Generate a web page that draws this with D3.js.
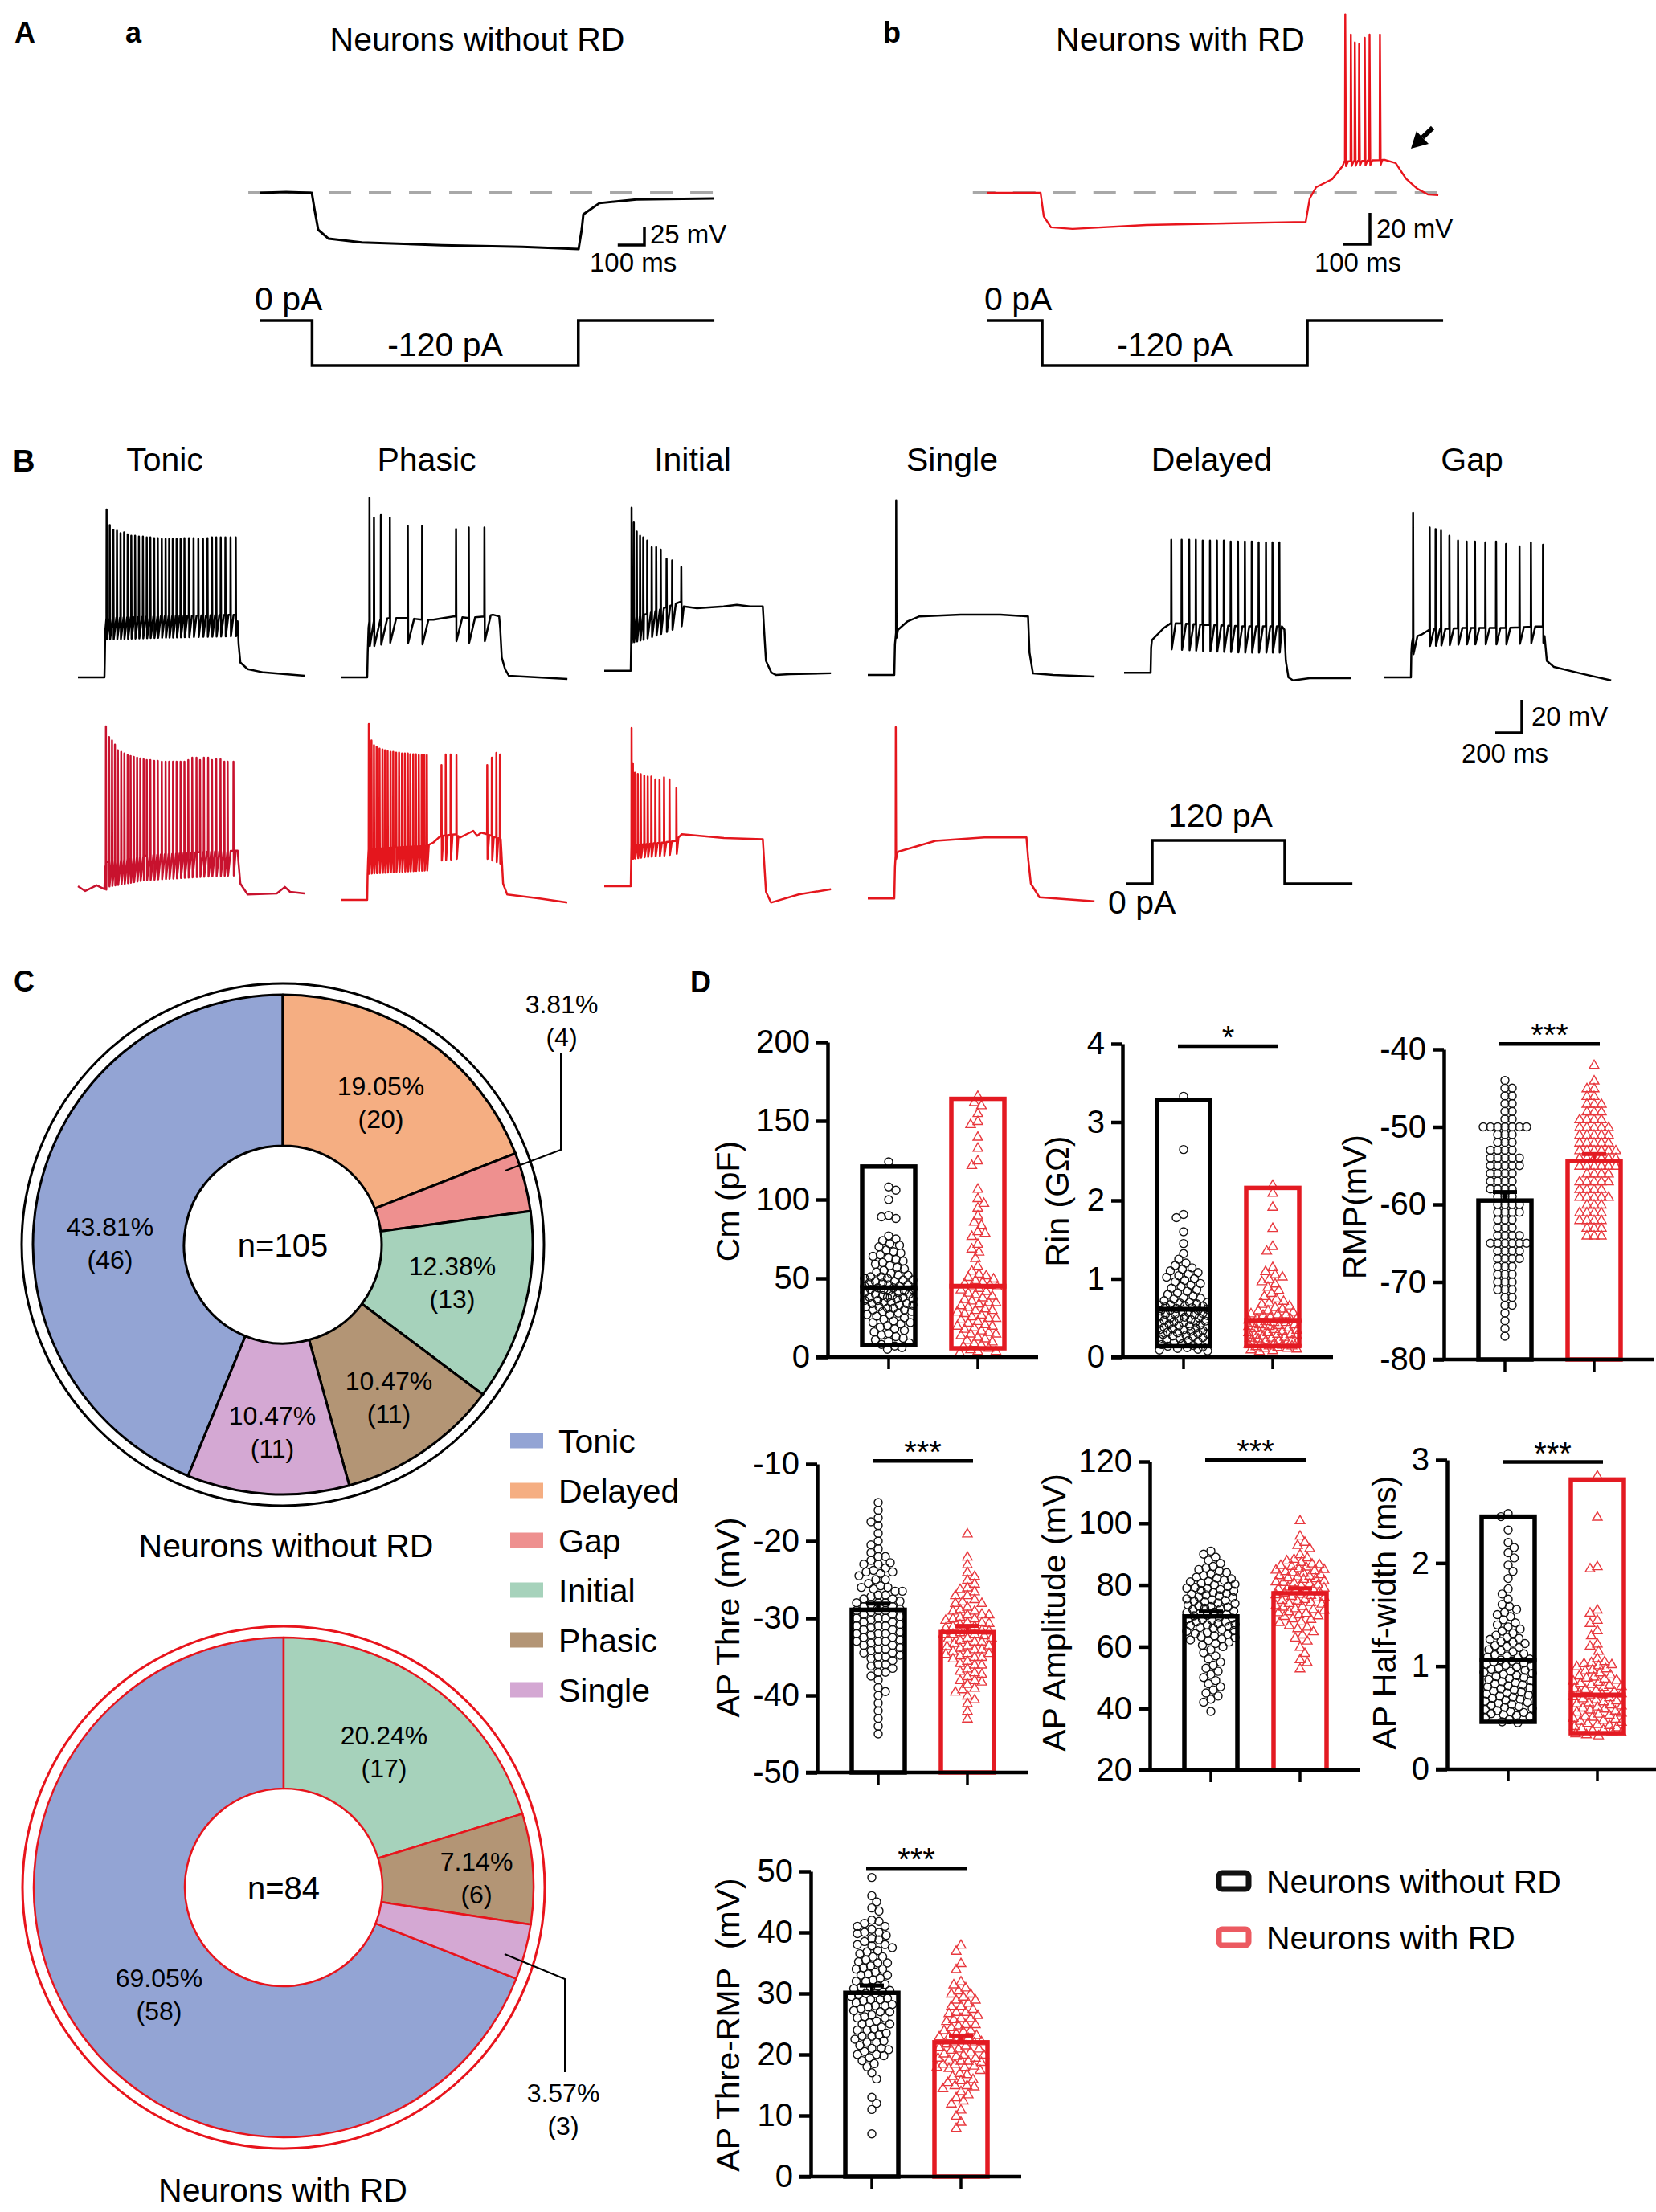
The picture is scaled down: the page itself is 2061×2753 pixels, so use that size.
<!DOCTYPE html>
<html>
<head>
<meta charset="utf-8">
<script src="https://cdn.jsdelivr.net/npm/d3@7"></script>
<style>
  body { margin: 0; background: #fff; }
  svg { display: block; font-family: "Liberation Sans", Arial, Helvetica, sans-serif; }
</style>
</head>
<body>
<div id="fig"></div>
<script>
// ---------------- Panel A: response to a -120 pA step (t in ms, v in mV from rest) ----------------
const aNoRdEnv = [[0,0],[100,1],[196,0],[205,-20],[220,-50],[259,-62],[383,-67],[684,-71],[985,-73],[1196,-76],
  [1208,-49],[1214,-29],[1274,-14],[1413,-9],[1702,-7.6]];
const aRdEnv = [[0,0],[199,0],[211,-15],[238,-22],[319,-23],[596,-20.5],[1193,-18.5],[1208,-3.6],[1232,3.6],
  [1292,8.7],[1331,17],[1338,20],[1480,21],[1491,21],[1530,19],[1569,9],[1611,2.6],[1651,-1],[1690,-1.5]];
const aRdSpikes = [[1340,114],[1361,101],[1376,96],[1392,95],[1413,99],[1431,101],[1470,101]];
const aStepNoRd = [[0,0],[197,-120],[1195,0],[1705,0]];
const aStepRd = [[0,0],[205,-120],[1199,0],[1708,0]];

// ---------------- Panel B: firing patterns under a 120 pA step ----------------
const bTypes = ['Tonic', 'Phasic', 'Initial', 'Single', 'Delayed', 'Gap'];
const bStep = [[0,0],[200,120],[1200,0],[1710,0]];

const tonicEnv = [[0,0],[200,0],[203,12],[206,28],[215,36],[600,37],[1190,38],[1204,34],[1212,20],[1225,9],[1280,5],[1400,3],[1710,1]];
const tonicSpikes = [[215,102],[239,92.5],[266,89.6],[293,89],[320,87.6],[347,88],[374,86.8],[401,86],[430,86],[459,85.5],
  [489,85.5],[518,85],[545,85],[574,84.5],[601,84.5],[631,84],[660,84],[687,84],[714,84],[743,84],[773,84],[802,84.5],
  [836,84.5],[871,84.5],[907,84],[942,84],[976,84.5],[1010,85],[1042,85],[1076,85],[1111,85],[1150,85],[1189,85]];

const phasicEnv = [[0,0],[200,0],[204,15],[210,30],[216,34],[250,34],[370,36],[505,36],[613,35],[700,35],[850,37],[869,37],
  [965,36],[1083,37],[1150,38],[1195,37],[1203,30],[1215,12],[1240,5],[1268,1],[1710,-1]];
const phasicSpikes = [[216,109],[250,97],[302,98.5],[370,97],[505,92],[613,92],[869,90],[965,91],[1083,91]];

const initialEnv = [[0,4],[200,4],[203,20],[205,36],[300,38],[450,42],[580,46],[600,43],[700,42],[900,43],[1000,44],
  [1100,43],[1196,43],[1205,30],[1220,10],[1260,3],[1294,1.5],[1400,2],[1710,2.5]];
const initialSpikes = [[205,103],[222,94],[244,88.5],[269,86],[293,85],[323,83],[357,79],[391,79],[425,77.6],[469,72],[511,71],[580,67]];

const singleEnv = [[0,1.5],[200,1.5],[205,20],[213,27],[230,29],[300,34],[389,37],[700,38],[1000,38],[1209,37],[1220,15],
  [1246,2.4],[1400,1.5],[1710,0.5]];
const singleSpikes = [[213,107.5]];

const delayedEnv = [[0,2.8],[200,2.8],[204,18],[210,22.6],[300,30],[355,33],[600,32],[900,31],[1190,31],[1209,29],[1220,10],
  [1240,0],[1275,-1.8],[1400,-0.5],[1710,-0.5]];
const delayedSpikes = [[355,83.5],[433,83.5],[490,83.5],[540,83.5],[592,83],[647,83],[699,83],[751,83],[803,82.5],[858,82.5],
  [910,82.5],[962,82.5],[1014,82],[1069,82],[1118,82],[1170,82]];

const gapEnv = [[0,0],[200,0],[203,15],[208,21],[215,24],[280,26],[340,29],[600,30],[900,30],[1195,31],[1208,25],[1225,10],
  [1279,6.3],[1500,2],[1710,-1.8]];
const gapSpikes = [[215,100],[340,91],[385,90],[426,89],[489,86],[554,83],[619,82.5],[682,82.5],[760,82],[841,82.5],[916,81],
  [1018,79.5],[1104,82],[1195,80.5]];

const tonicRdEnv = [[0,3.4],[55,0.5],[141,4],[200,1.6],[203,10],[206,15],[215,18],[500,22],[900,24],[1190,25],[1205,25],
  [1211,18],[1225,5],[1280,-1.6],[1500,-1],[1561,3],[1600,0],[1710,-1]];
const tonicRdSpikes = [[210,100.5],[234,94],[256,92],[278,89.4],[300,86],[325,85],[349,84],[374,83],[396,82.5],[420,82],
  [445,81.5],[469,81],[494,80.5],[518,80],[545,80],[574,79.5],[601,79.5],[631,79],[660,79],[687,79],[716,79],[743,79],
  [773,79],[802,79],[831,80],[861,81.5],[893,81.5],[920,80],[949,81.5],[981,81.5],[1010,80],[1042,80.5],[1074,80.5],
  [1103,79],[1128,79],[1172,79]];

const phasicRdEnv = [[0,-4.9],[200,-4.9],[203,10],[207,20],[211,26],[400,27],[649,28],[700,30],[740,33],[759,34],[872,35],
  [900,33],[950,35],[1000,37],[1030,34],[1060,36],[1104,35],[1207,32],[1212,25],[1225,5],[1256,-1.6],[1500,-4],[1709,-6.5]];
const phasicRdSpikes = [[211,102],[231,92],[250,89],[270,88],[292,87],[314,86.5],[333,86],[353,85.5],[375,85],[395,85],
  [417,84.5],[439,84.5],[461,84],[483,84],[505,84],[524,83.5],[546,83.5],[566,83.5],[588,83],[610,83],[630,83],[649,83],
  [759,77],[791,83.4],[828,83.4],[872,83],[1104,77],[1139,81.5],[1173,84.4],[1200,83.4]];

const initialRdEnv = [[0,3.4],[200,3.4],[203,18],[205,28],[300,29],[450,30],[543,31],[560,33],[585,35],[903,32.7],[1196,32],
  [1205,20],[1220,0],[1258,-6.5],[1466,-1.6],[1710,1.6]];
const initialRdSpikes = [[205,99.5],[215,78],[230,72.3],[252,71.6],[274,71.5],[301,70.5],[327,70],[354,70],[384,68.3],
  [416,68],[450,69.5],[491,68.3],[543,63]];

const singleRdEnv = [[0,-4],[200,-4],[205,15],[210,22],[230,24.4],[511,31],[879,33],[1197,33],[1210,20],[1230,5],
  [1295,-3.3],[1710,-5.7]];
const singleRdSpikes = [[210,100]];

// ---------------- Panel C: firing pattern counts ----------------
const pieTypes = ['Tonic', 'Delayed', 'Gap', 'Initial', 'Phasic', 'Single'];
const pieColors = ['#93a4d4', '#f5ae82', '#ee908f', '#a6d2bb', '#b39575', '#d4a8d3'];
const countsNoRd = [46, 20, 4, 13, 11, 11];
const pctNoRd = ['43.81%', '19.05%', '3.81%', '12.38%', '10.47%', '10.47%'];
const countsRd = [58, 0, 0, 17, 6, 3];
const pctRd = ['69.05%', '', '', '20.24%', '7.14%', '3.57%'];

// ---------------- Panel D: passive / active properties ----------------
const cmNoRd = [124,108,106,100,90,89,88,77,75,74,72,71,70,68,67,66,65,64,63,62,61,60,59,58,57,56,55,54,53,52,
  51,51,50,50,49,49,48,48,47,46,46,45,45,44,44,43,43,42,42,41,41,40,40,39,39,38,38,37,37,36,36,35,35,34,34,33,33,32,32,31,
  31,30,30,29,29,28,27,27,26,25,24,23,22,22,21,20,19,18,17,16,15,14,13,12,11,10,9,8,7,6,5,52,47,43,38];
const cmRd = [166,162,160,155,150,148,140,133,125,122,107,101,98,95,90,86,84,80,79,77,72,69,67,63,58,55,53,52,51,50,
  49,48,47,46,45,45,44,43,42,41,40,39,38,37,36,35,34,33,32,31,30,29,28,27,26,25,24,23,22,21,20,19,18,17,16,15,14,13,12,11,
  10,9,8,7,6,5,4,4,3,35,30,25,20,15];
const rinNoRd = [3.33,2.65,1.82,1.78,1.6,1.45,1.32,1.25,1.2,1.17,1.14,1.12,1.1,1.08,1.06,1.04,1.02,1.0,0.98,0.96,
  0.94,0.92,0.9,0.88,0.86,0.84,0.82,0.8,0.78,0.76,0.74,0.72,0.7,0.69,0.68,0.67,0.66,0.65,0.64,0.63,0.62,0.61,0.6,0.59,0.58,
  0.57,0.56,0.55,0.54,0.53,0.52,0.51,0.5,0.49,0.48,0.47,0.46,0.45,0.44,0.43,0.42,0.41,0.4,0.39,0.38,0.37,0.36,0.35,0.34,0.33,
  0.32,0.31,0.3,0.29,0.28,0.27,0.26,0.25,0.24,0.23,0.22,0.21,0.2,0.19,0.18,0.17,0.16,0.15,0.14,0.13,0.12,0.11,0.1,0.09,0.08,
  0.55,0.5,0.45,0.4,0.6,0.65,0.7,0.35,0.3,0.75];
const rinRd = [2.2,2.1,1.92,1.65,1.42,1.36,1.15,1.1,1.06,1.03,1.0,0.97,0.94,0.9,0.86,0.82,0.78,0.75,0.72,0.7,
  0.68,0.66,0.64,0.62,0.6,0.58,0.56,0.55,0.54,0.52,0.5,0.49,0.48,0.46,0.45,0.44,0.42,0.41,0.4,0.38,0.37,0.36,0.34,0.33,0.32,
  0.3,0.29,0.28,0.26,0.25,0.24,0.22,0.21,0.2,0.19,0.18,0.17,0.16,0.15,0.14,0.13,0.12,0.11,0.1,0.09,0.08,0.15,0.2,0.25,0.3,
  0.35,0.4,0.45,0.5,0.55,0.6,0.12,0.18,0.22,0.28,0.32,0.38,0.42,0.48];
const rmpNoRd = [-44,-45,-45,-46,-46,-47,-47,-48,-48,-49,-49,-50,-50,-50,-50,-50,-50,-50,-51,-51,-51,-52,-52,-52,
  -53,-53,-53,-53,-54,-54,-54,-54,-54,-55,-55,-55,-55,-55,-56,-56,-56,-56,-57,-57,-57,-57,-58,-58,-58,-58,-59,-59,-59,
  -60,-60,-60,-60,-61,-61,-61,-61,-62,-62,-62,-63,-63,-63,-64,-64,-64,-64,-65,-65,-65,-65,-65,-65,-66,-66,-66,-66,
  -67,-67,-67,-67,-68,-68,-68,-69,-69,-69,-70,-70,-70,-71,-71,-71,-72,-72,-73,-73,-74,-75,-76,-77];
const rmpRd = [-42,-44,-45,-45,-46,-46,-47,-47,-47,-48,-48,-48,-49,-49,-49,-50,-50,-50,-50,-50,-51,-51,-51,-51,
  -52,-52,-52,-52,-52,-53,-53,-53,-53,-53,-54,-54,-54,-54,-54,-55,-55,-55,-55,-55,-56,-56,-56,-56,-57,-57,-57,-57,
  -58,-58,-58,-58,-59,-59,-59,-59,-60,-60,-60,-61,-61,-61,-62,-62,-62,-62,-63,-63,-63,-64,-64,-64,
  -55,-53,-51,-49,-57,-59,-61,-54];
const thrNoRd = [-15,-17,-17.5,-18,-20,-20.5,-21,-22,-22,-22.5,-23,-23,-23.5,-24,-24,-24.5,-25,-25,-25.5,
  -26,-26,-26.5,-26.5,-27,-27,-27.5,-27.5,-28,-28,-28,-28.5,-28.5,-29,-29,-29,-29.5,-29.5,-30,-30,-30,-30.5,-30.5,
  -31,-31,-31,-31.5,-31.5,-32,-32,-32,-32.5,-32.5,-33,-33,-33,-33.5,-33.5,-34,-34,-34.5,-34.5,-35,-35,-35.5,
  -36,-36,-36.5,-37,-37.5,-38,-39,-40,-41,-42,-43,-44,-45,-22.8,-24.2,-25.8,-26.2,-27.2,-27.8,-28.2,-28.8,-29.2,
  -29.8,-30.2,-30.8,-31.2,-31.8,-32.2,-32.8,-33.2,-33.8,-34.2,-34.8,-35.2,-21.5,-23.8,-36.2,-37,-39.5,-19,-16];
const thrRd = [-19,-22,-23,-24,-24.5,-25,-25.5,-26,-26.5,-27,-27,-27.5,-28,-28,-28.5,-29,-29,-29.5,-29.5,-30,-30,
  -30.5,-30.5,-31,-31,-31.5,-31.5,-32,-32,-32,-32.5,-32.5,-33,-33,-33.5,-33.5,-34,-34,-34.5,-34.5,-35,-35,-35.5,
  -36,-36,-36.5,-37,-37.5,-38,-38,-38.5,-39,-39.5,-40,-40.5,-41,-42,-43,-26.2,-27.8,-28.8,-29.8,-30.2,-30.8,-31.2,
  -31.8,-32.2,-32.8,-33.2,-33.8,-34.2,-34.8,-35.2,-35.8,-36.8,-37.2,-38.2,-39.2,-31.6,-32.6,-33.6,-30.6,-29.4,-34.6];
const ampNoRd = [39,42,43,44,45,46,47,48,49,50,51,52,53,54,55,56,57,58,59,60,60.5,61,61.5,62,62.5,63,63.5,64,64.5,65,
  65.5,66,66.5,67,67.5,68,68.5,69,69.5,70,70.5,71,71.5,72,72.5,73,73.5,74,74.5,75,75.5,76,76.5,77,77.5,78,78.5,79,79.5,80,
  80.5,81,81.5,82,82.5,83,84,85,86,87,88,89,90,91,62.2,63.2,64.2,65.2,66.2,67.2,68.2,69.2,70.2,71.2,72.2,73.2,74.2,75.2,
  76.2,77.2,78.2,79.2,80.2,81.2,82.2,83.5,84.5,85.5,70.8,72.8,74.8,76.8,78.8,66.8,68.8];
const ampRd = [53,55,56,58,60,62,63,64,65,66,67,68,69,70,70.5,71,71.5,72,72.5,73,73.5,74,74.5,75,75.5,76,76.5,77,77.5,78,
  78.5,79,79.5,80,80.5,81,81.5,82,82.5,83,83.5,84,84.5,85,85.5,86,86.5,87,87.5,88,89,90,92,93,94,96,101,
  74.2,75.2,76.2,77.2,78.2,79.2,80.2,81.2,82.2,83.2,84.2,85.2,86.2,73.2,72.2,71.2,70.2,69.2,68.2,76.8,78.8,80.8,82.8,
  84.8,86.8,88.5,66.5];
const hwNoRd = [2.48,2.45,2.32,2.2,2.15,2.1,2.05,1.98,1.92,1.85,1.75,1.7,1.65,1.6,1.58,1.55,1.52,1.5,1.48,1.45,
  1.42,1.4,1.38,1.36,1.34,1.32,1.3,1.28,1.26,1.24,1.22,1.2,1.18,1.16,1.14,1.12,1.1,1.08,1.06,1.04,1.02,1.0,0.98,0.96,0.94,
  0.92,0.9,0.88,0.86,0.84,0.82,0.8,0.78,0.76,0.74,0.72,0.7,0.68,0.66,0.64,0.62,0.6,0.58,0.56,0.54,0.52,0.5,0.48,0.46,0.45,
  0.51,0.55,0.59,0.63,0.67,0.71,0.75,0.79,0.83,0.87,0.91,0.95,0.99,1.03,1.07,1.11,1.15,1.19,1.23,1.27,0.53,0.57,0.61,0.65,
  0.69,0.73,0.77,0.81,0.85,0.89,0.93,0.97,1.01,1.05,1.09];
const hwRd = [2.85,2.45,1.97,1.95,1.55,1.52,1.45,1.42,1.35,1.3,1.22,1.2,1.15,1.08,1.05,1.04,1.03,1.02,1.0,0.98,
  0.96,0.94,0.92,0.9,0.88,0.86,0.84,0.82,0.8,0.78,0.76,0.74,0.72,0.7,0.68,0.66,0.64,0.62,0.6,0.58,0.56,0.54,0.52,0.5,0.48,
  0.46,0.44,0.42,0.4,0.38,0.36,0.35,0.34,0.33,0.37,0.39,0.41,0.43,0.45,0.47,0.49,0.51,0.53,0.55,0.57,0.59,0.61,0.63,0.65,
  0.67,0.69,0.71,0.73,0.75,0.77,0.79,0.81,0.83,0.85,0.87,0.89,0.91,0.97,1.01];
const trNoRd = [49,46,45,44,43.5,42,41.5,41,41,40.5,40,40,39.5,39,38.5,38,38,37.5,37,36.5,36,36,35.5,35,35,34.5,34,34,33.5,33,
  33,32.5,32,32,31.5,31,31,30.5,30,30,29.5,29,29,28.5,28,28,27.5,27,27,26.5,26,26,25.5,25,25,24.5,24,24,23.5,23,
  23,22.5,22,22,21.5,21,21,20.5,20,20,19.5,19,18.5,18,17,16,13,12,11,7,35.2,34.2,33.2,32.2,31.2,30.2,29.2,28.2,27.2,26.2,
  25.2,24.2,23.2,22.2,36.8,37.8,38.8,39.8,29.8,28.8,27.8,41.8,20.8,19.8,30.8];
const trRd = [38,37,35,34,32,31.5,31,30.5,30,30,29.5,29,29,28.5,28,28,27.5,27,27,26.5,26,26,25.5,25,25,24.5,24,24,23.5,23,
  23,22.5,22,22,21.5,21,21,20.5,20,20,19.5,19.5,19,19,18.5,18.5,18,18,17.5,17,16.5,16,15.5,15,15,14.5,14,13.5,13,12.5,
  12,11,10,9,8,22.8,21.8,20.8,19.8,18.8,17.8,23.8,24.8,25.8,26.8,21.2,20.2,19.2,18.2,22.2,23.2,16.8,15.8,14.8];

// summary marks: floating bars [min, max, mean]; mean bars [mean, sem]
const cmSummary = [[7.6, 121, 44], [5.6, 164, 45]];
const rinSummary = [[0.14, 3.28, 0.61], [0.14, 2.16, 0.47]];
const hwSummary = [[0.46, 2.45, 1.06], [0.35, 2.81, 0.72]];
const rmpSummary = [[-59.5, 1.1], [-54.4, 0.9]];
const thrSummary = [[-28.9, 0.8], [-31.8, 0.8]];
const ampSummary = [[69.8, 1.6], [77.3, 1.6]];
const trSummary = [[30.1, 1.2], [22.0, 1.1]];

// ====================================================================================
const W = 2061, H = 2753;
const RED = '#e31a22';
const svg = d3.select('#fig').append('svg')
  .attr('width', W).attr('height', H).attr('viewBox', `0 0 ${W} ${H}`);
svg.append('rect').attr('width', W).attr('height', H).attr('fill', '#fff');

function label(g, x, y, s, size, anchor, weight) {
  return g.append('text').attr('x', x).attr('y', y).attr('font-size', size)
    .attr('text-anchor', anchor || 'start').attr('font-weight', weight || 'normal')
    .attr('fill', '#000').text(s);
}

// build vertices of a recording from its envelope and spike list
function tracePoints(tr) {
  const env = d3.scaleLinear().domain(tr.env.map(d => d[0])).range(tr.env.map(d => d[1]));
  const spk = tr.spikes || [];
  const ev = [];
  tr.env.forEach(([t, v]) => {
    if (!spk.some(([s]) => t > s - 1 && t < s + 5)) ev.push({ t, v });
  });
  spk.forEach(([t, pk]) => ev.push({ t, pk }));
  ev.sort((a, b) => a.t - b.t);
  const pts = [];
  ev.forEach((e, i) => {
    if (e.pk === undefined) { pts.push([e.t, e.v]); return; }
    const base = env(e.t);
    pts.push([e.t, base], [e.t + 1.2, e.pk], [e.t + 4, base - tr.ahp]);
    const t2 = e.t + 4 + tr.rec;
    const next = ev[i + 1];
    if (!next || next.t > t2 + 2) pts.push([t2, env(t2)]);
  });
  return pts;
}

function drawTrace(g, tr, x, y, color, width) {
  const line = d3.line().x(d => x(d[0])).y(d => y(d[1]));
  g.append('path').attr('d', line(tracePoints(tr))).attr('fill', 'none')
    .attr('stroke', color).attr('stroke-width', width).attr('stroke-linejoin', 'round');
}

function drawStep(g, data, x, y) {
  const line = d3.line().x(d => x(d[0])).y(d => y(d[1])).curve(d3.curveStepAfter);
  g.append('path').attr('d', line(data)).attr('fill', 'none').attr('stroke', '#000').attr('stroke-width', 3.5);
}

function scaleBar(g, cx, cy, x, y, ms, mv) {
  const w = x(ms) - x(0), h = y(0) - y(mv);
  g.append('path').attr('d', `M${cx - w},${cy}H${cx}V${cy - h}`)
    .attr('fill', 'none').attr('stroke', '#000').attr('stroke-width', 3.5);
}

// ---------------- Panel A ----------------
const gA = svg.append('g');
label(gA, 18, 53, 'A', 36, 'start', 'bold');
label(gA, 156, 53, 'a', 36, 'start', 'bold');
label(gA, 1099, 53, 'b', 36, 'start', 'bold');
label(gA, 594, 63, 'Neurons without RD', 41, 'middle');
label(gA, 1469, 63, 'Neurons with RD', 41, 'middle');

const xAa = d3.scaleLinear().domain([0, 1710]).range([323, 323 + 1710 * 0.332]);
const yAa = d3.scaleLinear().domain([0, 25]).range([240, 217]);
const xAb = d3.scaleLinear().domain([0, 1710]).range([1229, 1229 + 1710 * 0.332]);
const yAb = d3.scaleLinear().domain([0, 20]).range([240, 201]);
const yIa = d3.scaleLinear().domain([0, -120]).range([399, 455]);

[[xAa, yAa, -42, 1760], [xAb, yAb, -55, 1745]].forEach(([x, y, t0, t1]) => {
  gA.append('line').attr('x1', x(t0)).attr('x2', x(t1)).attr('y1', y(0)).attr('y2', y(0))
    .attr('stroke', '#a8a8a8').attr('stroke-width', 4).attr('stroke-dasharray', '28 22');
});
drawTrace(gA, { env: aNoRdEnv, spikes: [], ahp: 0, rec: 0 }, xAa, yAa, '#000', 3);
drawTrace(gA, { env: aRdEnv, spikes: aRdSpikes, ahp: 3, rec: 8 }, xAb, yAb, '#e8141c', 2.4);
drawStep(gA, aStepNoRd, xAa, yIa);
drawStep(gA, aStepRd, xAb, yIa);
scaleBar(gA, 802, 305, xAa, yAa, 100, 25);
scaleBar(gA, 1705, 304, xAb, yAb, 100, 20);
label(gA, 809, 303, '25 mV', 33);
label(gA, 734, 338, '100 ms', 33);
label(gA, 1713, 296, '20 mV', 33);
label(gA, 1690, 338, '100 ms', 33, 'middle');
label(gA, 317, 386, '0 pA', 41);
label(gA, 554, 443, '-120 pA', 41, 'middle');
label(gA, 1225, 386, '0 pA', 41);
label(gA, 1462, 443, '-120 pA', 41, 'middle');
// arrow pointing at the rebound plateau
(function () {
  const tip = [1756, 185], tail = [1783, 159];
  const L = Math.hypot(tip[0] - tail[0], tip[1] - tail[1]);
  const u = [(tip[0] - tail[0]) / L, (tip[1] - tail[1]) / L], n = [u[1], -u[0]];
  const b = [tip[0] - u[0] * 20, tip[1] - u[1] * 20];
  gA.append('line').attr('x1', tail[0]).attr('y1', tail[1]).attr('x2', b[0]).attr('y2', b[1])
    .attr('stroke', '#000').attr('stroke-width', 6);
  gA.append('path').attr('d', `M${tip}L${b[0] + n[0] * 11},${b[1] + n[1] * 11}L${b[0] - n[0] * 11},${b[1] - n[1] * 11}Z`)
    .attr('fill', '#000');
})();

// ---------------- Panel B ----------------
const gB = svg.append('g');
label(gB, 16, 587, 'B', 38, 'start', 'bold');
const bX0 = [97, 424, 752, 1080, 1399, 1723];
const bTitleX = [205, 531, 862, 1185, 1508, 1832];
bTypes.forEach((t, i) => label(gB, bTitleX[i], 586, t, 41, 'middle'));

const blackTraces = [
  { env: tonicEnv, spikes: tonicSpikes, ahp: 13, rec: 20 },
  { env: phasicEnv, spikes: phasicSpikes, ahp: 15, rec: 45 },
  { env: initialEnv, spikes: initialSpikes, ahp: 15, rec: 25 },
  { env: singleEnv, spikes: singleSpikes, ahp: 3, rec: 10 },
  { env: delayedEnv, spikes: delayedSpikes, ahp: 16, rec: 30 },
  { env: gapEnv, spikes: gapSpikes, ahp: 10, rec: 30 }
];
const redTraces = [
  { env: tonicRdEnv, spikes: tonicRdSpikes, ahp: 15, rec: 20, color: '#c8122e' },
  { env: phasicRdEnv, spikes: phasicRdSpikes, ahp: 15, rec: 12, color: '#e4161d' },
  { env: initialRdEnv, spikes: initialRdSpikes, ahp: 8, rec: 15, color: '#e4161d' },
  { env: singleRdEnv, spikes: singleRdSpikes, ahp: 2, rec: 8, color: '#e4161d' }
];
const bX = i => d3.scaleLinear().domain([0, 1710]).range([bX0[i], bX0[i] + 1710 * 0.165]);
const yBk = d3.scaleLinear().domain([0, 20]).range([843, 802]);
const yRd = d3.scaleLinear().domain([0, 20]).range([1110, 1069]);
blackTraces.forEach((tr, i) => drawTrace(gB, tr, bX(i), yBk, '#000', 2.5));
redTraces.forEach((tr, i) => drawTrace(gB, tr, bX(i), yRd, tr.color, 2.5));
scaleBar(gB, 1894, 912, bX(0), yBk, 200, 20);
label(gB, 1906, 903, '20 mV', 33);
label(gB, 1873, 949, '200 ms', 33, 'middle');
const xBs = d3.scaleLinear().domain([0, 1710]).range([1401, 1401 + 1710 * 0.165]);
const yBs = d3.scaleLinear().domain([0, 120]).range([1100, 1046]);
drawStep(gB, bStep, xBs, yBs);
label(gB, 1519, 1029, '120 pA', 41, 'middle');
label(gB, 1379, 1137, '0 pA', 41);

// ---------------- Panel C ----------------
const gC = svg.append('g');
label(gC, 17, 1234, 'C', 36, 'start', 'bold');

function drawPie(cx, cy, counts, pcts, stroke, sw, labelOff, center, leader) {
  const g = gC.append('g').attr('transform', `translate(${cx},${cy})`);
  const total = d3.sum(counts);
  const start = -2 * Math.PI * counts[0] / total;
  const arcs = d3.pie().sort(null).value(d => d).startAngle(start).endAngle(start + 2 * Math.PI)(counts);
  const arc = d3.arc().innerRadius(123).outerRadius(311);
  g.append('circle').attr('r', 325).attr('fill', 'none').attr('stroke', stroke).attr('stroke-width', 3);
  g.selectAll('path.slice').data(arcs.filter(a => a.data > 0)).join('path').attr('class', 'slice')
    .attr('d', arc).attr('fill', d => pieColors[d.index]).attr('stroke', stroke).attr('stroke-width', sw)
    .attr('stroke-linejoin', 'round');
  label(g, 0, 14.5, center, 40, 'middle');
  arcs.forEach((a, i) => {
    if (!a.data) return;
    const [dx, dy] = labelOff[i];
    label(g, dx, dy - 20.5 + 11.5, pcts[i], 32, 'middle');
    label(g, dx, dy + 20.5 + 11.5, `(${counts[i]})`, 32, 'middle');
  });
  g.append('path').attr('d', d3.line()(leader)).attr('fill', 'none').attr('stroke', '#000').attr('stroke-width', 2);
}
drawPie(352, 1549, countsNoRd, pctNoRd, '#000', 3,
  [[-215, -2.5], [122, -177.5], [347, -279.5], [211, 46.5], [132, 189.5], [-13, 233]], 'n=105',
  [[277, -92], [346, -118], [346, -238]]);
drawPie(353, 2349, countsRd, pctRd, '#e8141c', 2.5,
  [[-155, 133], [0, 0], [0, 0], [125, -169.5], [240, -12], [348, 275.5]], 'n=84',
  [[275, 83], [350, 114], [350, 230]]);
label(gC, 356, 1938, 'Neurons without RD', 41, 'middle');
label(gC, 352, 2740, 'Neurons with RD', 41, 'middle');
const legY = d3.scalePoint().domain(pieTypes).range([1793, 2103]);
pieTypes.forEach((t, i) => {
  gC.append('rect').attr('x', 635).attr('y', legY(t) - 9.5).attr('width', 41).attr('height', 19).attr('fill', pieColors[i]);
  label(gC, 695, legY(t) + 14.7, t, 41);
});

// ---------------- Panel D ----------------
const gD = svg.append('g');
label(gD, 859, 1235, 'D', 36, 'start', 'bold');

const dCharts = [
  { title: 'Cm (pF)', domain: [0, 200], ticks: [0, 50, 100, 150, 200], type: 'range', a: cmNoRd, b: cmRd, s: cmSummary },
  { title: 'Rin (G\u03A9)', domain: [0, 4], ticks: [0, 1, 2, 3, 4], type: 'range', a: rinNoRd, b: rinRd, s: rinSummary, sig: ['*', 3.97] },
  { title: 'RMP(mV)', domain: [-80, -40], ticks: [-80, -70, -60, -50, -40], type: 'sem', a: rmpNoRd, b: rmpRd, s: rmpSummary, sig: ['***', -39.3] },
  { title: 'AP Thre (mV)', domain: [-50, -10], ticks: [-50, -40, -30, -20, -10], type: 'sem', a: thrNoRd, b: thrRd, s: thrSummary, sig: ['***', -9.6] },
  { title: 'AP Amplitude (mV)', domain: [20, 120], ticks: [20, 40, 60, 80, 100, 120], type: 'sem', a: ampNoRd, b: ampRd, s: ampSummary, sig: ['***', 120.5] },
  { title: 'AP Half-width (ms)', domain: [0, 3], ticks: [0, 1, 2, 3], type: 'range', a: hwNoRd, b: hwRd, s: hwSummary, sig: ['***', 2.98] },
  { title: 'AP Thre-RMP\u00A0\u00A0(mV)', domain: [0, 50], ticks: [0, 10, 20, 30, 40, 50], type: 'sem', a: trNoRd, b: trRd, s: trSummary, sig: ['***', 50.5] }
];
const dLayout = [
  { left: 1030, top: 1297, bottom: 1689, lx: 906, ly: 1495 },
  { left: 1397, top: 1299, bottom: 1689, lx: 1316, ly: 1495 },
  { left: 1797, top: 1306, bottom: 1692, lx: 1686, ly: 1502 },
  { left: 1017, top: 1822, bottom: 2206, lx: 906, ly: 2013 },
  { left: 1431, top: 1819, bottom: 2203, lx: 1312, ly: 2007 },
  { left: 1801, top: 1817, bottom: 2202, lx: 1723, ly: 2007 },
  { left: 1009, top: 2329, bottom: 2709, lx: 906, ly: 2520 }
];

// deterministic beeswarm: each point goes to the nearest free horizontal slot
function swarm(vals, y, cx, d, maxOff) {
  const placed = [];
  vals.map(v => y(v)).sort((p, q) => p - q).forEach((py, n) => {
    let best = null;
    for (let k = 0; k * 1.5 <= maxOff && best === null; k++) {
      const offs = k === 0 ? [0] : (n % 2 ? [-k * 1.5, k * 1.5] : [k * 1.5, -k * 1.5]);
      for (const o of offs) {
        if (placed.every(q => (q.x - o) ** 2 + (q.y - py) ** 2 >= d * d)) { best = o; break; }
      }
    }
    if (best === null) {
      let bestD = -1;
      for (let o = -maxOff; o <= maxOff; o += 1.5) {
        const m = d3.min(placed, q => (q.x - o) ** 2 + (q.y - py) ** 2);
        if (m > bestD) { bestD = m; best = o; }
      }
    }
    placed.push({ x: best, y: py });
  });
  return placed.map(q => ({ x: cx + q.x, y: q.y }));
}

const tri = d3.symbol(d3.symbolTriangle, 62);
dCharts.forEach((c, ci) => {
  const L = dLayout[ci];
  const g = gD.append('g');
  const y = d3.scaleLinear().domain(c.domain).range([L.bottom, L.top]);
  const x = d3.scalePoint().domain([0, 1]).range([L.left + 76, L.left + 187]);
  const bw = 66;

  swarm(c.a, y, x(0), 9, 30).forEach(p => g.append('circle').attr('cx', p.x).attr('cy', p.y).attr('r', 5)
    .attr('fill', 'none').attr('stroke', '#111').attr('stroke-width', 1.4));
  swarm(c.b, y, x(1), 9, 30).forEach(p => g.append('path').attr('d', tri()).attr('transform', `translate(${p.x},${p.y + 1})`)
    .attr('fill', 'none').attr('stroke', '#e8383e').attr('stroke-width', 1.4));

  c.s.forEach((s, gi) => {
    const col = gi ? RED : '#000';
    const cx = x(gi);
    if (c.type === 'range') {
      g.append('rect').attr('x', cx - bw / 2).attr('y', y(s[1])).attr('width', bw).attr('height', y(s[0]) - y(s[1]))
        .attr('fill', 'none').attr('stroke', col).attr('stroke-width', 5.5);
      g.append('line').attr('x1', cx - bw / 2 - 2.5).attr('x2', cx + bw / 2 + 2.5).attr('y1', y(s[2])).attr('y2', y(s[2]))
        .attr('stroke', col).attr('stroke-width', 6);
    } else {
      g.append('rect').attr('x', cx - bw / 2).attr('y', y(s[0])).attr('width', bw).attr('height', L.bottom - y(s[0]))
        .attr('fill', 'none').attr('stroke', col).attr('stroke-width', 5.5);
      g.append('line').attr('x1', cx).attr('x2', cx).attr('y1', y(s[0])).attr('y2', y(s[0] + s[1]))
        .attr('stroke', col).attr('stroke-width', 4);
      g.append('line').attr('x1', cx - 15).attr('x2', cx + 15).attr('y1', y(s[0] + s[1])).attr('y2', y(s[0] + s[1]))
        .attr('stroke', col).attr('stroke-width', 5);
    }
  });

  const ax = g.append('g').attr('transform', `translate(${L.left},0)`)
    .call(d3.axisLeft(y).tickValues(c.ticks).tickSize(14).tickSizeOuter(0).tickPadding(8).tickFormat(d => String(d)));
  ax.attr('font-size', 40).attr('font-family', '"Liberation Sans", Arial, sans-serif');
  ax.selectAll('path, line').attr('stroke', '#000').attr('stroke-width', 4.5);
  ax.selectAll('text').attr('fill', '#000');
  g.append('line').attr('x1', L.left - 14).attr('x2', L.left + 262).attr('y1', L.bottom).attr('y2', L.bottom)
    .attr('stroke', '#000').attr('stroke-width', 4.5);
  [0, 1].forEach(gi => g.append('line').attr('x1', x(gi)).attr('x2', x(gi)).attr('y1', L.bottom).attr('y2', L.bottom + 15)
    .attr('stroke', '#000').attr('stroke-width', 3.5));

  g.append('text').attr('transform', `translate(${L.lx},${L.ly}) rotate(-90)`).attr('dy', '0.35em')
    .attr('text-anchor', 'middle').attr('font-size', 41).attr('fill', '#000').text(c.title);

  if (c.sig) {
    const sy = y(c.sig[1]);
    g.append('line').attr('x1', x(0) - 7).attr('x2', x(1) + 7).attr('y1', sy).attr('y2', sy)
      .attr('stroke', '#000').attr('stroke-width', 4.5);
    label(g, (x(0) + x(1)) / 2, sy + 3, c.sig[0], 40, 'middle');
  }
});

// legend of panel D
[['Neurons without RD', '#111', 2341], ['Neurons with RD', '#ec5a61', 2411]].forEach(([t, col, cy]) => {
  gD.append('rect').attr('x', 1517).attr('y', cy - 10).attr('width', 37).attr('height', 20).attr('rx', 4)
    .attr('fill', '#fff').attr('stroke', col).attr('stroke-width', 7);
  label(gD, 1576, cy + 14.5, t, 41);
});
</script>
</body>
</html>
